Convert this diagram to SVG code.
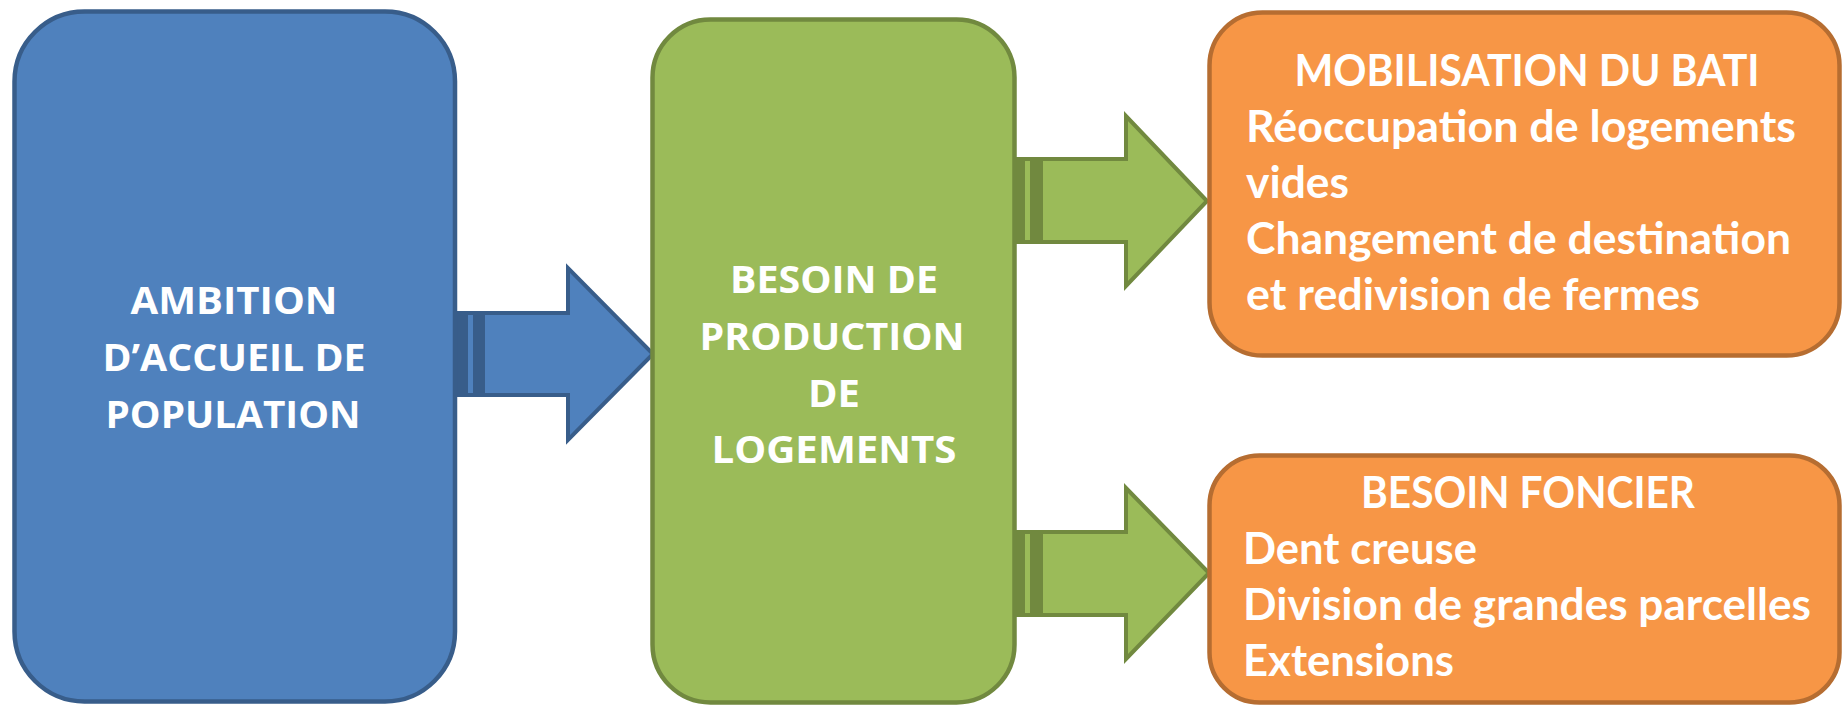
<svg xmlns="http://www.w3.org/2000/svg" width="1843" height="706" viewBox="0 0 1843 706">
  <style>
    .blue { fill: #4F81BD; stroke: #385D8A; }
    .green { fill: #9BBB59; stroke: #71893F; }
    .orange { fill: #F79646; stroke: #B66D31; }
    .box { stroke-width: 4.5; }
    .arrow { stroke-width: 4; stroke-linejoin: miter; }
    .caps { font-family: "Open Sans", "Liberation Sans", sans-serif; font-weight: 700; font-size: 38px; fill: #FFFFFF; text-anchor: middle; }
    .list { font-family: Lato, "Open Sans", "Liberation Sans", sans-serif; font-weight: 700; font-size: 43px; fill: #FFFFFF; }
    .title { text-anchor: middle; }
  </style>

  <!-- connectors: striped right arrows -->
  <g id="connectors">
    <g id="arrow-ambition-besoin">
      <rect x="453" y="311" width="30" height="86" fill="#385D8A"/>
      <rect x="468" y="315" width="5" height="78" fill="#4F81BD"/>
      <path class="blue arrow" d="M483,313 H568 V268 L653,354 L568,440 V395 H483 Z"/>
    </g>
    <g id="arrow-besoin-bati">
      <rect x="1010" y="157" width="31" height="87" fill="#71893F"/>
      <rect x="1025" y="161" width="5" height="79" fill="#9BBB59"/>
      <path class="green arrow" d="M1041,159 H1126 V116 L1207,201 L1126,286 V242 H1041 Z"/>
    </g>
    <g id="arrow-besoin-foncier">
      <rect x="1010" y="530" width="31" height="87" fill="#71893F"/>
      <rect x="1025" y="534" width="5" height="79" fill="#9BBB59"/>
      <path class="green arrow" d="M1041,532 H1126 V488 L1209,573 L1126,659 V615 H1041 Z"/>
    </g>
  </g>

  <!-- population target -->
  <g id="node-ambition">
    <rect class="blue box" x="14.5" y="11.5" width="440.5" height="690" rx="70" ry="70"/>
    <text class="caps" x="234" y="314" textLength="207" lengthAdjust="spacingAndGlyphs">AMBITION</text>
    <text class="caps" x="234" y="371" textLength="263" lengthAdjust="spacingAndGlyphs">D’ACCUEIL DE</text>
    <text class="caps" x="233" y="428" textLength="255" lengthAdjust="spacingAndGlyphs">POPULATION</text>
  </g>

  <!-- housing production need -->
  <g id="node-besoin">
    <rect class="green box" x="652.5" y="19.5" width="362" height="683" rx="58" ry="58"/>
    <text class="caps" x="834" y="293" textLength="208" lengthAdjust="spacingAndGlyphs">BESOIN DE</text>
    <text class="caps" x="832" y="350" textLength="265" lengthAdjust="spacingAndGlyphs">PRODUCTION</text>
    <text class="caps" x="834" y="407" textLength="52" lengthAdjust="spacingAndGlyphs">DE</text>
    <text class="caps" x="834" y="463" textLength="245" lengthAdjust="spacingAndGlyphs">LOGEMENTS</text>
  </g>

  <!-- existing buildings -->
  <g id="node-bati">
    <rect class="orange box" x="1209.5" y="12.5" width="630" height="343" rx="53" ry="53"/>
    <text class="list title" x="1527" y="86" textLength="465" lengthAdjust="spacingAndGlyphs">MOBILISATION DU BATI</text>
    <text class="list" x="1246" y="142" textLength="550" lengthAdjust="spacingAndGlyphs">Réoccupation de logements</text>
    <text class="list" x="1246" y="198" textLength="103" lengthAdjust="spacingAndGlyphs">vides</text>
    <text class="list" x="1246" y="254" textLength="545" lengthAdjust="spacingAndGlyphs">Changement de destination</text>
    <text class="list" x="1246" y="310" textLength="454" lengthAdjust="spacingAndGlyphs">et redivision de fermes</text>
  </g>

  <!-- land need -->
  <g id="node-foncier">
    <rect class="orange box" x="1209.5" y="455.5" width="630" height="247" rx="50" ry="50"/>
    <text class="list title" x="1528" y="508" textLength="334" lengthAdjust="spacingAndGlyphs">BESOIN FONCIER</text>
    <text class="list" x="1243" y="564" textLength="234" lengthAdjust="spacingAndGlyphs">Dent creuse</text>
    <text class="list" x="1243" y="620" textLength="568" lengthAdjust="spacingAndGlyphs">Division de grandes parcelles</text>
    <text class="list" x="1243" y="676" textLength="211" lengthAdjust="spacingAndGlyphs">Extensions</text>
  </g>
</svg>
